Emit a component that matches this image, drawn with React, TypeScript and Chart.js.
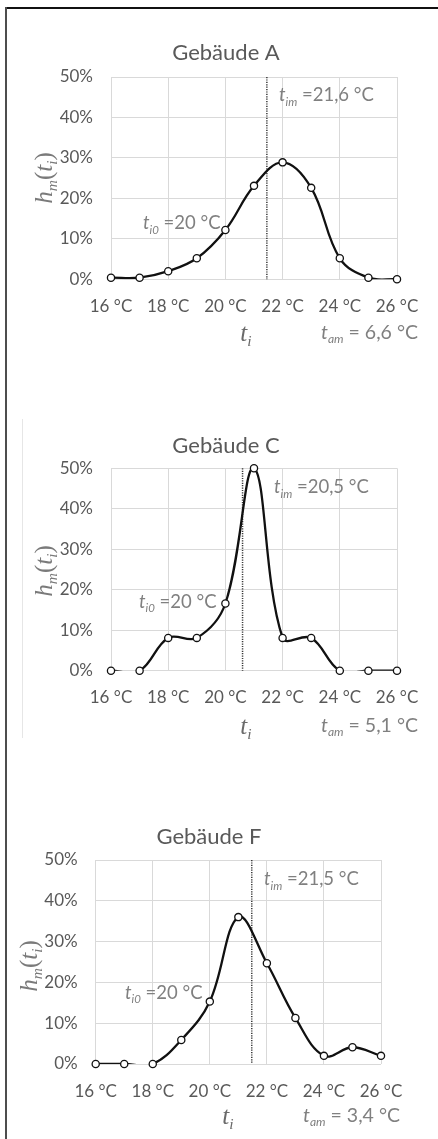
import { useEffect, useRef } from "react";
import { Chart, registerables } from "chart.js";

Chart.register(...registerables);

// ---- data ----
const temps = [16, 17, 18, 19, 20, 21, 22, 23, 24, 25, 26];
const seriesA = [0.4, 0.4, 2.0, 5.2, 12.2, 23.1, 28.9, 22.6, 5.2, 0.4, 0];
const seriesC = [0, 0, 8.1, 8.1, 16.6, 50, 8.1, 8.1, 0, 0, 0];
const seriesF = [0, 0, 0, 5.9, 15.3, 36, 24.7, 11.3, 2.0, 4.1, 2.0];
const buildingNames = ["Gebäude A", "Gebäude C", "Gebäude F"];
const meanLabels = ["21,6", "20,5", "21,5"];
const meanLinePos = [21.45, 20.6, 21.47];
const amplitudeLabels = ["6,6", "5,1", "3,4"];
const refTempLabel = "20";
const xTickValues = [16, 18, 20, 22, 24, 26];
const yTickValues = [0, 10, 20, 30, 40, 50];

const allSeries = [seriesA, seriesC, seriesF];

// ---- layout (canvas coordinates) ----
const W = 438;
const X_AXIS_H = 48;
const Y_AXIS_W = 70;
const layouts = [
  { top: 10, height: 360, area: { l: 111, r: 397, t: 67, b: 269.3 }, title: [226, 43], tim: [279, 85], ti0: [143, 213], ti: [246, 322], tam: [418, 322], ytitle: [43, 168] },
  { top: 380, height: 380, area: { l: 111, r: 397, t: 88.3, b: 290.7 }, title: [226, 65.7], tim: [274, 107], ti0: [139, 221.7], ti: [246, 345], tam: [418, 345], ytitle: [43, 191] },
  { top: 760, height: 379, area: { l: 95.7, r: 381, t: 100, b: 304 }, title: [209, 77], tim: [264, 119], ti0: [125, 232.7], ti: [228, 355], tam: [400, 355], ytitle: [28, 206] },
];

const SANS = "Lato, 'Open Sans', sans-serif";
const SERIF = "'Liberation Serif', 'DejaVu Serif', serif";
const TICK_COLOR = "#595959";
const NOTE_COLOR = "#808080";
const GRID = "#d9d9d9";

type Part = { t: string; it?: boolean; sub?: boolean };

function drawRich(
  ctx: CanvasRenderingContext2D,
  parts: Part[],
  x: number,
  y: number,
  align: "left" | "center" | "right",
  size: number,
  family: string,
  color: string
) {
  const subSize = size * 0.62;
  const fontOf = (p: Part) => `${p.it ? "italic " : ""}${p.sub ? subSize : size}px ${family}`;
  const widths = parts.map((p) => {
    ctx.font = fontOf(p);
    return ctx.measureText(p.t).width;
  });
  const total = widths.reduce((a, b) => a + b, 0);
  let cx = align === "left" ? x : align === "center" ? x - total / 2 : x - total;
  const baseline = y + size * 0.35;
  ctx.fillStyle = color;
  ctx.textAlign = "left";
  ctx.textBaseline = "alphabetic";
  parts.forEach((p, i) => {
    ctx.font = fontOf(p);
    ctx.fillText(p.t, cx, p.sub ? baseline + size * 0.22 : baseline);
    cx += widths[i];
  });
}

function Panel({ idx }: { idx: number }) {
  const ref = useRef<HTMLCanvasElement | null>(null);
  const lay = layouts[idx];

  useEffect(() => {
    const canvas = ref.current;
    if (!canvas) return;
    const { area } = lay;

    const overlay = {
      id: "overlay" + idx,
      beforeDatasetsDraw(chart: any) {
        const ctx = chart.ctx as CanvasRenderingContext2D;
        const xs = chart.scales.x;
        const ca = chart.chartArea;
        const px = xs.getPixelForValue(meanLinePos[idx]);
        ctx.save();
        ctx.strokeStyle = "#3a3a3a";
        ctx.lineWidth = 1.5;
        ctx.setLineDash([1.2, 1.2]);
        ctx.beginPath();
        ctx.moveTo(px, ca.top);
        ctx.lineTo(px, ca.bottom);
        ctx.stroke();
        ctx.restore();
      },
      afterDraw(chart: any) {
        const ctx = chart.ctx as CanvasRenderingContext2D;
        ctx.save();
        // title
        ctx.font = `22px ${SANS}`;
        ctx.fillStyle = TICK_COLOR;
        ctx.textAlign = "center";
        ctx.textBaseline = "middle";
        ctx.fillText(buildingNames[idx], lay.title[0], lay.title[1]);
        // mean label
        drawRich(ctx, [{ t: "t", it: true }, { t: "im", it: true, sub: true }, { t: " =" + meanLabels[idx] + " °C" }], lay.tim[0], lay.tim[1], "left", 18.5, SANS, NOTE_COLOR);
        // reference temp label
        drawRich(ctx, [{ t: "t", it: true }, { t: "i0", it: true, sub: true }, { t: " =" + refTempLabel + " °C" }], lay.ti0[0], lay.ti0[1], "left", 18.5, SANS, NOTE_COLOR);
        // amplitude label
        drawRich(ctx, [{ t: "t", it: true }, { t: "am", it: true, sub: true }, { t: " = " + amplitudeLabels[idx] + " °C" }], lay.tam[0], lay.tam[1], "right", 19.5, SANS, NOTE_COLOR);
        // x axis title
        drawRich(ctx, [{ t: "t", it: true }, { t: "i", it: true, sub: true }], lay.ti[0], lay.ti[1], "center", 25, SERIF, "#6a6a6a");
        // y axis title
        ctx.translate(lay.ytitle[0], lay.ytitle[1]);
        ctx.rotate(-Math.PI / 2);
        drawRich(ctx, [{ t: "h", it: true }, { t: "m", it: true, sub: true }, { t: "(" }, { t: "t", it: true }, { t: "i", it: true, sub: true }, { t: ")" }], 0, 0, "center", 25, SERIF, "#7a7a7a");
        ctx.restore();
      },
    };

    const points = temps.map((t, i) => ({ x: t, y: allSeries[idx][i] }));

    const chart = new Chart(canvas, {
      type: "line",
      data: {
        datasets: [
          {
            // markers, not clipped at the plot edges
            data: points,
            showLine: false,
            clip: false,
            pointRadius: 3.6,
            pointBorderWidth: 1.3,
            pointBorderColor: "#111111",
            pointBackgroundColor: "#ffffff",
            order: 0,
          },
          {
            // smoothed curve, clipped to plot area
            data: points,
            borderColor: "#111111",
            borderWidth: 2.3,
            tension: 0.38,
            pointRadius: 0,
            fill: false,
            order: 1,
          },
        ],
      },
      options: {
        responsive: false,
        animation: false,
        events: [],
        elements: { line: { capBezierPoints: false } },
        layout: {
          padding: {
            left: area.l - Y_AXIS_W,
            right: W - area.r,
            top: area.t,
            bottom: lay.height - area.b - X_AXIS_H,
          },
        },
        plugins: { legend: { display: false }, title: { display: false }, tooltip: { enabled: false } },
        scales: {
          x: {
            type: "linear",
            min: 16,
            max: 26,
            afterFit: (s: any) => {
              s.height = X_AXIS_H;
            },
            afterBuildTicks: (s: any) => {
              s.ticks = xTickValues.map((v) => ({ value: v }));
            },
            grid: { color: GRID, drawTicks: false, lineWidth: 1 },
            border: { display: false },
            ticks: {
              padding: 17,
              color: TICK_COLOR,
              font: { family: SANS, size: 17 },
              maxRotation: 0,
              autoSkip: false,
              callback: (v: any) => `${v} °C`,
            },
          },
          y: {
            min: 0,
            max: 50,
            afterFit: (s: any) => {
              s.width = Y_AXIS_W;
            },
            afterBuildTicks: (s: any) => {
              s.ticks = yTickValues.map((v) => ({ value: v }));
            },
            grid: { color: GRID, drawTicks: false, lineWidth: 1 },
            border: { display: false },
            ticks: {
              padding: 18,
              color: TICK_COLOR,
              font: { family: SANS, size: 17 },
              callback: (v: any) => `${v}%`,
            },
          },
        },
      },
      plugins: [overlay],
    } as any);
    return () => chart.destroy();
  }, [idx]);

  return (
    <canvas
      ref={ref}
      width={W}
      height={lay.height}
      style={{ position: "absolute", left: 0, top: lay.top, width: W, height: lay.height }}
    />
  );
}

export default function App() {
  return (
    <div style={{ position: "absolute", left: 0, top: 0, width: W, height: 1139, background: "#ffffff", overflow: "hidden" }}>
      <Panel idx={0} />
      <Panel idx={1} />
      <Panel idx={2} />
      {/* frame lines */}
      <div style={{ position: "absolute", left: 5, top: 7, width: W - 5, height: 2, background: "#111111" }} />
      <div style={{ position: "absolute", left: 5, top: 7, width: 2, height: 1139 - 7, background: "#4d4d4d" }} />
      <div style={{ position: "absolute", left: 22, top: 419, width: 1, height: 319, background: "#e6e6e6" }} />
    </div>
  );
}
